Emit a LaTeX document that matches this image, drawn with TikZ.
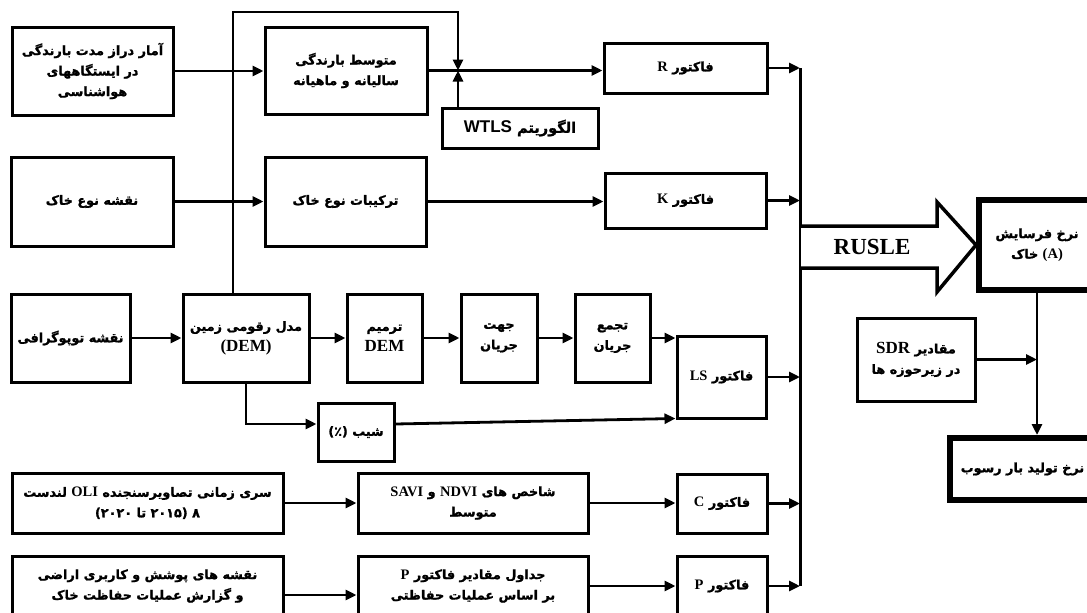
\documentclass[tikz,border=0pt]{standalone}
\usepackage{fontspec}
\newfontfamily\fa[Script=Arabic, BoldFeatures={FakeBold=1.3}]{DejaVu Sans}
\newfontfamily\latn{Liberation Serif}
\newfontfamily\latsans{Liberation Sans}
\TeXXeTstate=1
\usetikzlibrary{arrows.meta, positioning}
% rtl line and latin word inside it
\newcommand\faline[1]{\beginR #1\endR}
\newcommand\latw[1]{{\latn\bfseries\fontsize{14.5}{16}\selectfont\beginL #1\endL}}
\newcommand\latbig[1]{{\latn\bfseries\fontsize{17}{18}\selectfont\beginL #1\endL}}

\begin{document}
\begin{tikzpicture}[
	x=1pt, y=-1pt,
	box/.style = {draw, line width=3pt, align=center, inner sep=2pt,
	              font=\fa\bfseries\fontsize{12.8}{20.5}\selectfont},
	bigbox/.style = {box, line width=6pt},
	sz/.style 2 args = {minimum width=#1pt, minimum height=#2pt},
	arr/.style = {line width=2.8pt, -{Triangle[length=11pt,width=10pt]}},
	bus/.style = {line width=3pt}
	]
	\useasboundingbox (0,0) rectangle (1087,613);
%
	\node[box, sz={161}{88}] (rain) at (92.5,71)
		{\faline{آمار دراز مدت بارندگی}\\ \faline{در ایستگاههای}\\ \faline{هواشناسی}};
	\node[box, sz={162}{87}] (mean) at (346,70.5)
		{\faline{متوسط بارندگی}\\ \faline{سالیانه و ماهیانه}};
	\node[box, sz={156}{40}, font=\fa\bfseries\fontsize{14.5}{16}\selectfont] (wtls) at (520,128)
		{\faline{الگوریتم {\latsans\bfseries\fontsize{17}{18}\selectfont\beginL WTLS\endL}}};
	\node[box, sz={163}{50}] (fR) at (685.5,68) {\faline{فاکتور \latw{R}}};
%
	\node[box, sz={162}{89}] (soil) at (92,201.5) {\faline{نقشه نوع خاک}};
	\node[box, sz={161}{89}] (comp) at (345.5,201.5) {\faline{ترکیبات نوع خاک}};
	\node[box, sz={161}{55}] (fK) at (685.5,200.5) {\faline{فاکتور \latw{K}}};
%
	\node[box, sz={119}{88}] (topo) at (70.5,338) {\faline{نقشه توپوگرافی}};
	\node[box, sz={126}{88}] (dem) at (246,338) {\faline{مدل رقومی زمین}\\ \latbig{(DEM)}};
	\node[box, sz={75}{88}] (fill) at (384.5,338) {\faline{ترمیم}\\ \latbig{DEM}};
	\node[box, sz={76}{88}] (fdir) at (499,338) {\faline{جهت}\\ \faline{جریان}};
	\node[box, sz={75}{88}] (facc) at (612.5,338) {\faline{تجمع}\\ \faline{جریان}};
	\node[box, sz={89}{82}] (fLS) at (721.5,377) {\faline{فاکتور \latw{LS}}};
	\node[box, sz={76}{58}] (slope) at (356,432) {\faline{شیب (٪)}};
%
	\node[box, sz={271}{60}] (olis) at (147.5,503)
		{\faline{سری زمانی تصاویرسنجنده \latw{OLI} لندست}\\ \faline{۸ (۲۰۱۵ تا ۲۰۲۰)}};
	\node[box, sz={230}{60}] (ndvi) at (473,503)
		{\faline{شاخص های \latw{NDVI} و \latw{SAVI}}\\ \faline{متوسط}};
	\node[box, sz={90}{59}] (fC) at (722,503.5) {\faline{فاکتور \latw{C}}};
%
	\node[box, sz={271}{60}] (lulc) at (147.5,586)
		{\faline{نقشه های پوشش و کاربری اراضی}\\ \faline{و گزارش عملیات حفاظت خاک}};
	\node[box, sz={230}{60}] (ptab) at (473,586)
		{\faline{جداول مقادیر فاکتور \latw{P}}\\ \faline{بر اساس عملیات حفاظتی}};
	\node[box, sz={90}{60}] (fP) at (722,586) {\faline{فاکتور \latw{P}}};
%
	\node[box, sz={118}{83}] (sdr) at (916,359.5)
		{\faline{مقادیر \latbig{SDR}}\\ \faline{در زیرحوزه ها}};
	\node[bigbox, sz={116}{90}] (soilA) at (1037,245)
		{\faline{نرخ فرسایش}\\ خاک \latw{(A)}};
	\node[bigbox, sz={145}{62}] (sed) at (1022.5,469) {\faline{نرخ تولید بار رسوب}};
%
	\coordinate (busT) at (800,68);
	\coordinate (busB) at (800,586);
	\coordinate (jn) at (458,70.5);
	\coordinate (loop) at (458,12);
%
	\draw[arr] (rain.east) -- (rain.east -| mean.west);
	\draw[arr] ([xshift=-13pt]dem.north) |- (loop) -- (jn);
	\draw[arr] (wtls.north -| jn) -- (jn);
	\draw[arr] (mean.east) -- (mean.east -| fR.west);
	\draw[arr] (fR.east) -- (fR.east -| busT);
%
	\draw[arr] (soil.east) -- (comp.west);
	\draw[arr] (comp.east) -- (comp.east -| fK.west);
	\draw[arr] (fK.east) -- (fK.east -| busT);
%
	\draw[arr] (topo.east) -- (dem.west);
	\draw[arr] (dem.east) -- (fill.west);
	\draw[arr] (fill.east) -- (fdir.west);
	\draw[arr] (fdir.east) -- (facc.west);
	\draw[arr] (facc.east) -- (facc.east -| fLS.west);
	\draw[arr] (fLS.east) -- (fLS.east -| busT);
	\draw[arr] (dem.south) |- ([yshift=8pt]slope.west);
	\draw[arr] ([yshift=8pt]slope.east) -- ([yshift=1pt]fLS.south west);
%
	\draw[arr] (olis.east) -- (ndvi.west);
	\draw[arr] (ndvi.east) -- (ndvi.east -| fC.west);
	\draw[arr] (fC.east) -- (fC.east -| busT);
	\draw[arr] ([yshift=-9pt]lulc.east) -- ([yshift=-9pt]ptab.west);
	\draw[arr] (ptab.east) -- (fP.west);
	\draw[arr] (fP.east) -- (fP.east -| busT);
%
	\draw[bus] (busT) -- (busB);
	\draw[line width=3.5pt, fill=white]
		(801,226) -- (937,226) -- (937,202) -- (soilA.west) -- (937,292) -- (937,268) -- (801,268);
	\node[font=\latn\bfseries\fontsize{23}{24}\selectfont] (rusle) at (872,247) {RUSLE};
%
	\draw[arr] (soilA.south) -- (soilA.south |- sed.north);
	\draw[arr] (sdr.east) -- (sdr.east -| soilA.south);
\end{tikzpicture}
\end{document}
